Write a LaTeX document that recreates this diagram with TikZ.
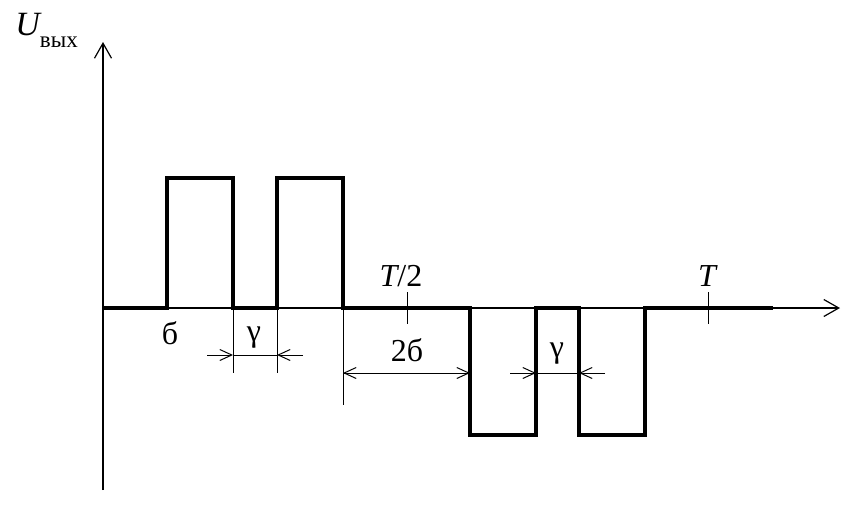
\documentclass[tikz,border=0pt]{standalone}
\usepackage{fontspec}
\setmainfont{Liberation Serif}
\usetikzlibrary{arrows.meta,positioning}

\begin{document}
\begin{tikzpicture}[
            x=0.5pt, y=-0.5pt,
            axis/.style={
                    line width=0.6pt,
                    -{Straight Barb[length=7.5pt,width=8.5pt,line width=0.6pt]}
                },
            signal/.style={line width=1.6pt, line join=miter},
            guide/.style={line width=0.5pt},
            dimarrow/.style={
                    line width=0.5pt,
                    -{Straight Barb[length=6pt,width=5.5pt,line width=0.5pt]}
                },
            lbl/.style={font=\fontsize{16}{18}\selectfont, inner sep=0pt}
        ]
        \useasboundingbox (0,0) rectangle (848,520);

        % axes
        \coordinate (origin) at (103,308);
        \coordinate (ybot) at (103,490);
        \coordinate (ytop) at (103,42);
        \coordinate (xend) at (840,308);
        \draw[axis] (ybot) -- (ytop);
        \draw[axis] (origin) -- (xend);
        \node[anchor=base west, inner sep=0pt] (ulabel) at (15,35)
            {\fontsize{17}{18}\selectfont\itshape U\fontsize{11.5}{12}\selectfont\upshape\raisebox{-6pt}{вых}};

        % ticks
        \coordinate (halfT) at (407,308);
        \coordinate (fullT) at (708,308);
        \draw[guide] ([yshift=8pt]halfT) -- ([yshift=-8pt]halfT);
        \draw[guide] ([yshift=8pt]fullT) -- ([yshift=-8pt]fullT);
        \node[lbl, anchor=base] (thalf) at (401,286) {\itshape T\upshape/2};
        \node[lbl, anchor=base] (tfull) at (707,286) {\itshape T};

        % output voltage
        \draw[signal] (origin) -- (167,308) -- (167,178) -- (233,178) -- (233,308)
            -- (277,308) -- (277,178) -- (343,178) -- (343,308) -- (470,308)
            -- (470,435) -- (536,435) -- (536,308) -- (579,308) -- (579,435)
            -- (645,435) -- (645,308) -- (773,308);

        % extension lines
        \draw[guide] (233,308) -- (233,373);
        \draw[guide] (277,308) -- (277,373);
        \draw[guide] (343,308) -- (343,405);

        % pulse width
        \node[lbl, anchor=base] (sigma) at (170,344) {б};

        % first pause
        \coordinate (g1a) at (233,355);
        \coordinate (g1b) at (277,355);
        \draw[guide] (g1a) -- (g1b);
        \draw[dimarrow] ([xshift=-13pt]g1a) -- (g1a);
        \draw[dimarrow] ([xshift=13pt]g1b) -- (g1b);
        \node[lbl, anchor=base] (gamma1) at (254,341) {γ};

        % dead time
        \coordinate (d2a) at (343,373);
        \coordinate (d2b) at (470,373);
        \draw[dimarrow] ([xshift=4pt]d2a) -- (d2a);
        \draw[dimarrow] ([xshift=-4pt]d2b) -- (d2b);
        \draw[guide] (d2a) -- (d2b);
        \node[lbl, anchor=base] (twosigma) at (407,361) {2б};

        % second pause
        \coordinate (g2a) at (536,373);
        \coordinate (g2b) at (579,373);
        \draw[guide] (g2a) -- (g2b);
        \draw[dimarrow] ([xshift=-13pt]g2a) -- (g2a);
        \draw[dimarrow] ([xshift=13pt]g2b) -- (g2b);
        \node[lbl, anchor=base] (gamma2) at (557,357) {γ};
    \end{tikzpicture}
\end{document}
